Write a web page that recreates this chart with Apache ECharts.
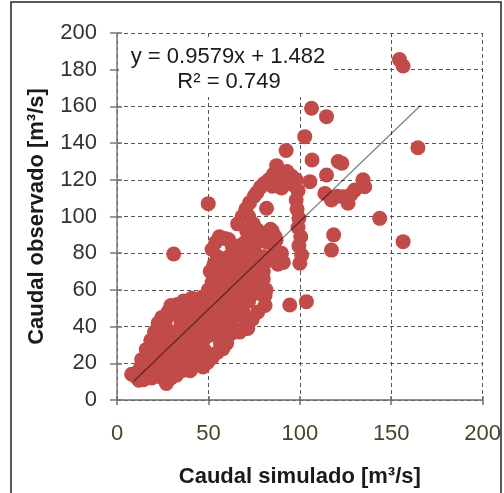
<!DOCTYPE html>
<html>
<head>
<meta charset="utf-8">
<script src="https://cdn.jsdelivr.net/npm/echarts@6/dist/echarts.min.js"></script>
<style>html,body{margin:0;padding:0;background:#fff}#c{width:504px;height:493px}</style>
</head>
<body>
<div id="c"></div>
<script>
// Simulated discharge (x) and observed discharge (y), m3/s
const simulated = [
 8,10.5,12,14.5,16,19,21,24,27,29.5,32.5,35.5,
 12.5,15,17.5,22,26.5,30,33,37,40,43,47,
 13.5,16.5,19,23.5,27.5,31,35,38.5,42,45.5,49.5,52,
 16,19.5,22.5,26,29,33,37,40.5,44,48,55,58,
 18.5,21.5,25,28.5,32,36,39.5,43,47,50,56.5,60,
 20.5,23.5,27,30.5,34,38,41.5,45,49,53,57.5,62,
 22.5,26.5,35,39,43,47,51,55,59,62,
 24.5,28,31.5,35,38.5,42,45.5,49,53,57,61,64.5,
 29.5,33,36.5,40,43.5,47,50.5,54,58,62,66,69,
 41,46.5,
 70.5,66,66,71.5,67,74,77,81,
 50,52,51,53,52,54,56,59,61,63,55,61,58,56,55,59,60,62,64,63,64,66,67,66,69,70,68,71,72,72,74,76,75,74,70,67,70,72,75,
 78,80,81.5,80,76,88,91,89,87,85,78,80,83,86,82,78,76,74,71,81,90,
 66,68.5,70.5,72.5,75,76.5,78.5,80.5,83,85.5,88,90.5,93,95.5,98,92,96,87,90,85,74.5,77,72,81.8,84,86.5,79,
 99,98,98.5,99.5,99,100.5,99.5,101,100,
 154.5,156.5,106.4,114.6,164.6,102.7,92.5,106.7,121,123,87.3,114.6,105.5,134.6,135.5,113.7,117.3,120.5,123.7,126.4,130,128,143.7,118.5,117.3,156.5,94.5,103.6,49.9,31
];
const observed = [
 14,12.5,10.8,11,13.5,12,14,12.5,9,12,13.5,16,
 17,19,16.5,17,16,18,19,17.5,16,19,18,
 22,24,21.5,22,21,23,22.5,23,22,23.5,20.5,23,
 27.5,28,26.5,27,28.5,27,28,27,28.5,27,26,28,
 32.5,33,31.5,33,32,33.5,32,33,32,35,31,31,
 37,38.5,36.5,37,38,36.5,38,37,39,38,36,36,
 42,43,42.5,42,43,42,44,42,43,41,
 45,48,47,48,47.5,48,47,48.5,47.5,49,48,46,
 51.5,52,54,52.5,54.5,53,55,53,55,53,51,48,
 55.5,56,
 42,47.5,38,39,37,44,48,51.5,
 60,64,70,74,82,86,89,88,87.5,84,78,78,72,66,60,62,67,73,78,60,66,70,56,62,66,60,74,70,64,54,58,62,68,76,80,84,86,83,82,
 58,66,60,70,75,74,75,80,87,92,72,78,76,80,86,90,89,93,92,57,80,
 96,100,104,107.5,111,113,116,118,120,123,124.5,123,124.5,122,120,120.5,117.5,119.5,115.5,116.5,96,92.5,100,104.5,93,89,87,
 114,109,104,99,94,89,84,79,74.5,
 185.5,182,159,154.4,137.5,143.5,136,130.8,130,129,127.7,122.6,119,120,116.2,112.6,109,111,110.8,107.2,114.4,112,99,90,81.7,86.3,51.8,53.6,107,79.6
];
const xTicks = [0, 50, 100, 150, 200];
const yTicks = [0, 20, 40, 60, 80, 100, 120, 140, 160, 180, 200];
const slope = 0.9579, intercept = 1.482, r2 = 0.749;
const fitRange = [9, 166];

const points = simulated.map((x, i) => [x, observed[i]]);
const fitLine = fitRange.map(x => [x, slope * x + intercept]);

const font = 'Liberation Sans, Arial, sans-serif';
const chart = echarts.init(document.getElementById('c'), null, {renderer: 'canvas'});
const xBase = {min: xTicks[0], max: xTicks[xTicks.length - 1], interval: xTicks[1] - xTicks[0], type: 'value', gridIndex: 0};
const yBase = {min: yTicks[0], max: yTicks[yTicks.length - 1], interval: yTicks[1] - yTicks[0], type: 'value', gridIndex: 0};
chart.setOption({
  animation: false,
  grid: {left: 117, right: 21, top: 33, bottom: 93},
  xAxis: [
    Object.assign({}, xBase, {
      position: 'bottom',
      name: 'Caudal simulado [m³/s]', nameLocation: 'middle', nameGap: 66,
      nameTextStyle: {fontFamily: font, fontWeight: 'bold', fontSize: 22, color: '#1a1a1a'},
      axisLine: {lineStyle: {color: '#6d6d6d', width: 1.5}},
      axisTick: {show: true, length: 5, lineStyle: {color: '#6d6d6d', width: 1.5}},
      axisLabel: {fontFamily: font, fontSize: 22, color: '#45452f', margin: 23},
      splitLine: {show: true, lineStyle: {color: '#555', type: [4, 3], width: 1}}
    }),
    Object.assign({}, xBase, {
      position: 'bottom', offset: 0,
      axisLine: {show: false}, axisLabel: {show: false}, splitLine: {show: false},
      axisTick: {show: true, inside: true, length: 4, lineStyle: {color: '#6d6d6d', width: 1.5}}
    })
  ],
  yAxis: [
    Object.assign({}, yBase, {
      position: 'left',
      name: 'Caudal observado [m³/s]', nameLocation: 'middle', nameGap: 69,
      nameTextStyle: {fontFamily: font, fontWeight: 'bold', fontSize: 22, color: '#1a1a1a'},
      axisLine: {lineStyle: {color: '#7a7a7a', width: 1.5}},
      axisTick: {show: true, length: 7, lineStyle: {color: '#7a7a7a', width: 1.5}},
      axisLabel: {fontFamily: font, fontSize: 22, color: '#333', margin: 20},
      splitLine: {show: true, lineStyle: {color: '#555', type: [4, 3], width: 1}}
    }),
    Object.assign({}, yBase, {
      position: 'left', offset: 0,
      axisLine: {show: false}, axisLabel: {show: false}, splitLine: {show: false},
      axisTick: {show: true, inside: true, length: 5, lineStyle: {color: '#7a7a7a', width: 1.5}}
    })
  ],
  series: [
    {
      type: 'scatter', xAxisIndex: 0, yAxisIndex: 0, data: points,
      symbol: 'circle', symbolSize: 15,
      itemStyle: {color: '#c14b49', opacity: 1, borderWidth: 0},
      emphasis: {disabled: true}, z: 2
    },
    {
      type: 'line', xAxisIndex: 0, yAxisIndex: 0, data: fitLine,
      showSymbol: false, symbol: 'none',
      lineStyle: {color: 'rgba(0,0,0,0.5)', width: 1.2}, z: 3
    }
  ],
  graphic: [
    {type: 'rect', shape: {x: 11, y: 2, width: 490, height: 520}, style: {fill: 'none', stroke: '#222', lineWidth: 1.5}, z: 10},
    {type: 'rect', shape: {x: 119, y: 40, width: 213, height: 57}, style: {fill: '#fff'}, z: 9},
    {type: 'text', x: 228, y: 57, style: {text: 'y = ' + slope + 'x + ' + intercept, font: '22px ' + font, fill: '#1a1a1a', textAlign: 'center', textVerticalAlign: 'middle'}, z: 10},
    {type: 'text', x: 229, y: 82, style: {text: 'R² = ' + r2, font: '22px ' + font, fill: '#1a1a1a', textAlign: 'center', textVerticalAlign: 'middle'}, z: 10}
  ]
});
</script>
</body>
</html>
